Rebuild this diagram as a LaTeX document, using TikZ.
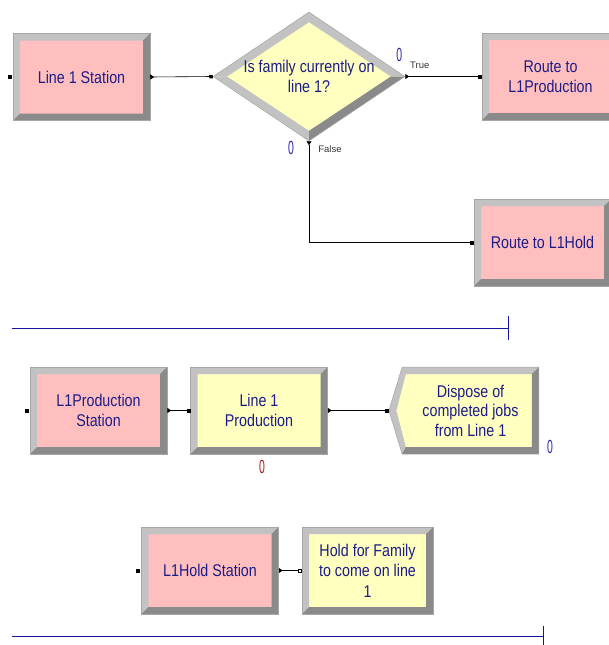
\documentclass[tikz,border=0pt]{standalone}
\usepackage{fontspec}
\setmainfont{Liberation Sans}[FakeStretch=0.84]
\newfontfamily\countfont{Liberation Sans}[FakeStretch=0.55]
\newfontfamily\tagfont{Liberation Sans}
\usetikzlibrary{
    positioning,
    arrows.meta,
    shapes.geometric,
    shapes.symbols,
    calc,
}
\definecolor{modpink}{RGB}{255,191,191}
\definecolor{modyellow}{RGB}{255,255,192}
\definecolor{bevlight}{RGB}{194,194,194}
\definecolor{bevdark}{RGB}{138,138,138}
\definecolor{modtext}{RGB}{28,28,135}
\definecolor{sepblue}{RGB}{20,20,160}
\definecolor{cntblue}{RGB}{40,40,175}
\definecolor{cntred}{RGB}{175,25,25}
\tikzset{
    % Module styles
    module/.style={rectangle, draw=gray!70, line width=0.5pt, minimum width=137pt,
                   minimum height=87pt, inner sep=0pt, align=center, text=modtext,
                   font=\fontsize{17}{20.5}\selectfont, bevel box},
    station/.style={module, fill=modpink},
    process/.style={module, fill=modyellow},
    bevel box/.style={path picture={
        \fill[bevlight] (path picture bounding box.south west) -- (path picture bounding box.north west)
            -- (path picture bounding box.north east) -- ([xshift=-7pt,yshift=-7pt]path picture bounding box.north east)
            -- ([xshift=7pt,yshift=-7pt]path picture bounding box.north west)
            -- ([xshift=7pt,yshift=7pt]path picture bounding box.south west) -- cycle;
        \fill[bevdark] (path picture bounding box.south west) -- (path picture bounding box.south east)
            -- (path picture bounding box.north east) -- ([xshift=-7pt,yshift=-7pt]path picture bounding box.north east)
            -- ([xshift=-7pt,yshift=7pt]path picture bounding box.south east)
            -- ([xshift=7pt,yshift=7pt]path picture bounding box.south west) -- cycle;
    }},
    decision/.style={diamond, aspect=1.5, draw=gray!70, line width=0.5pt, fill=modyellow,
                     minimum width=192pt, minimum height=129pt, inner sep=0pt, align=center,
                     text=modtext, font=\fontsize{17}{20.5}\selectfont, path picture={
        \fill[bevlight] (path picture bounding box.west) -- (path picture bounding box.north)
            -- (path picture bounding box.east) -- ([xshift=-14pt]path picture bounding box.east)
            -- ([yshift=-10pt]path picture bounding box.north) -- ([xshift=14pt]path picture bounding box.west) -- cycle;
        \fill[bevlight] (path picture bounding box.west) -- (path picture bounding box.south)
            -- ([yshift=10pt]path picture bounding box.south) -- ([xshift=14pt]path picture bounding box.west) -- cycle;
        \fill[bevdark] (path picture bounding box.south) -- (path picture bounding box.east)
            -- ([xshift=-14pt]path picture bounding box.east) -- ([yshift=10pt]path picture bounding box.south) -- cycle;
    }},
    dispose box/.style={signal, signal to=west, signal pointer angle=146, draw=gray!70,
                        line width=0.5pt, fill=modyellow, minimum width=150pt, minimum height=87pt,
                        inner sep=0pt, align=center, text=modtext,
                        font=\fontsize{17}{19.5}\selectfont, path picture={
        \fill[bevlight] (path picture bounding box.west) -- ([xshift=13pt]path picture bounding box.north west)
            -- (path picture bounding box.north east) -- ([xshift=-7pt,yshift=-7pt]path picture bounding box.north east)
            -- ([xshift=17pt,yshift=-7pt]path picture bounding box.north west)
            -- ([xshift=7.5pt]path picture bounding box.west)
            -- ([xshift=17pt,yshift=7pt]path picture bounding box.south west)
            -- ([xshift=13pt]path picture bounding box.south west) -- cycle;
        \fill[bevdark] ([xshift=13pt]path picture bounding box.south west) -- (path picture bounding box.south east)
            -- (path picture bounding box.north east) -- ([xshift=-7pt,yshift=-7pt]path picture bounding box.north east)
            -- ([xshift=-7pt,yshift=7pt]path picture bounding box.south east)
            -- ([xshift=17pt,yshift=7pt]path picture bounding box.south west) -- cycle;
    }},
    % Connector styles
    link/.style={line width=0.6pt, {Triangle[reversed, length=4pt, width=5pt]}-{Square[length=3.5pt, width=3.5pt]}},
    open link/.style={link, {Triangle[reversed, length=4pt, width=5pt]}-{Square[open, length=3.5pt, width=3.5pt]}},
    % Annotation styles
    tag/.style={font=\tagfont\fontsize{9.5}{11}\selectfont, text=black!80, inner sep=0pt},
    counter/.style={font=\countfont\fontsize{19}{20}\selectfont, inner sep=0pt},
    separator/.style={sepblue, line width=0.9pt},
}

\begin{document}
\begin{tikzpicture}[x=1pt, y=-1pt]
    \useasboundingbox (0,0) rectangle (608,645);

    % Line 1 decision
    \node[station] (line1st) at (81.5,77) {Line 1 Station};
    \node[decision] (isfamily) at (309,76.5) {Is family currently on\\line 1?};
    \node[station] (routeprod) at (550.5,76.5) {Route to\\L1Production};
    \node[station] (routehold) at (542.5,242.5) {Route to L1Hold};
    \fill ([xshift=-3pt]line1st.west) ++(-2,-2) rectangle ++(4,4);
    \draw[link] (line1st.east) -- (isfamily.west);
    \draw[link] (isfamily.east) -- (routeprod.west);
    \draw[link] (isfamily.south) |- (routehold.west);
    \node[tag] (truetag) at ([xshift=14.5pt,yshift=11pt]isfamily.east) {True};
    \node[tag] (falsetag) at ([xshift=21pt,yshift=-8pt]isfamily.south) {False};
    \node[counter, text=cntblue] (truecnt) at ([xshift=-6pt,yshift=22pt]isfamily.east) {0};
    \node[counter, text=cntblue] (falsecnt) at ([xshift=-18pt,yshift=-7pt]isfamily.south) {0};
    \draw[separator] (12,328) -- (508,328);
    \draw[separator] (508,316) -- (508,340);

    % L1 production
    \node[station] (prodst) at (98.5,410.5) {L1Production\\Station};
    \node[process] (l1prod) at (259,410.5) {Line 1\\Production};
    \node[dispose box] (dispose) at (470.5,410.5) {Dispose of\\completed jobs\\from Line 1};
    \fill ([xshift=-3pt]prodst.west) ++(-2,-2) rectangle ++(4,4);
    \draw[link] (prodst.east) -- (l1prod.west);
    \draw[link] (l1prod.east) -- (dispose.west);
    \node[counter, text=cntred] (prodcnt) at ([xshift=3pt,yshift=-13pt]l1prod.south) {0};
    \node[counter, text=cntblue] (disposecnt) at ([xshift=11pt,yshift=7pt]dispose.south east) {0};

    % L1 hold
    \node[station] (holdst) at (210,570.5) {L1Hold Station};
    \node[process, minimum width=131pt] (holdfam) at (367.5,570.5) {Hold for Family\\to come on line\\1};
    \fill ([xshift=-3pt]holdst.west) ++(-2,-2) rectangle ++(4,4);
    \draw[open link] (holdst.east) -- (holdfam.west);
    \draw[separator] (12,636) -- (543,636);
    \draw[separator] (543,626) -- (543,646);
\end{tikzpicture}
\end{document}
